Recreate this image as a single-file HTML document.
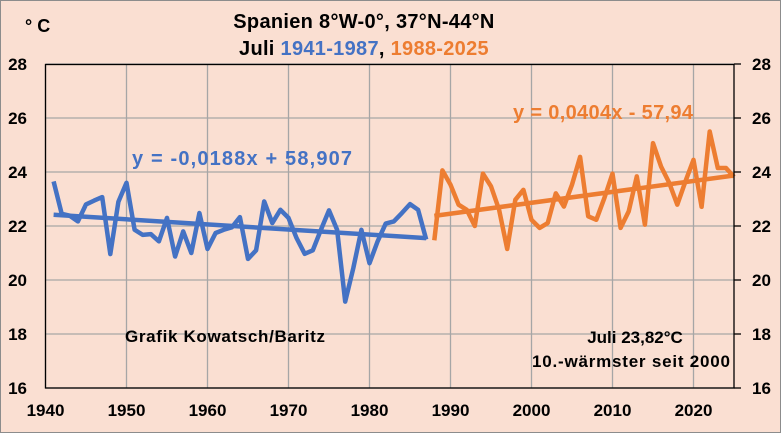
<!DOCTYPE html>
<html><head><meta charset="utf-8"><style>
html,body{margin:0;padding:0;background:#fadfd2}
svg{display:block;font-family:"Liberation Sans",sans-serif;font-weight:bold}
</style></head><body>
<svg id="chart" width="781" height="433" viewBox="0 0 781 433" xmlns="http://www.w3.org/2000/svg">
<rect x="0.5" y="0.5" width="780" height="432" fill="#fadfd2" stroke="#8c8c8c"/>
<g id="grid"></g>
<g id="marks"></g>
<rect x="45.5" y="64.5" width="688.5" height="323.5" fill="none" stroke="#000" stroke-width="1.3"/>
<g id="axes"></g>
<text x="25" y="32" font-size="18">° C</text>
<text x="364" y="28" font-size="20" text-anchor="middle" letter-spacing="0.3">Spanien 8°W-0°, 37°N-44°N</text>
<text x="364" y="55" font-size="20" text-anchor="middle" letter-spacing="0.3">Juli <tspan fill="#4472c4">1941-1987</tspan>, <tspan fill="#ed7d31">1988-2025</tspan></text>
<text x="132" y="165" font-size="20" fill="#4472c4" textLength="220">y = -0,0188x + 58,907</text>
<text x="513" y="119" font-size="20" fill="#ed7d31" textLength="180">y = 0,0404x - 57,94</text>
<text x="125" y="342" font-size="17" textLength="200">Grafik Kowatsch/Baritz</text>
<text x="635" y="343" font-size="17" text-anchor="middle">Juli 23,82°C</text>
<text x="631" y="367" font-size="17" text-anchor="middle" textLength="198">10.-wärmster seit 2000</text>
</svg>
<script>
const blueYears = [1941,1942,1943,1944,1945,1946,1947,1948,1949,1950,1951,1952,1953,1954,1955,1956,1957,1958,1959,1960,1961,1962,1963,1964,1965,1966,1967,1968,1969,1970,1971,1972,1973,1974,1975,1976,1977,1978,1979,1980,1981,1982,1983,1984,1985,1986,1987];
const blueValues = [23.65,22.45,22.38,22.17,22.8,22.94,23.07,20.96,22.9,23.6,21.86,21.67,21.7,21.43,22.3,20.87,21.8,21.0,22.48,21.15,21.74,21.86,21.95,22.33,20.78,21.1,22.91,22.11,22.6,22.3,21.55,20.97,21.1,21.86,22.58,21.86,19.2,20.44,21.86,20.62,21.43,22.09,22.17,22.48,22.81,22.6,21.5];
const orangeYears = [1988,1989,1990,1991,1992,1993,1994,1995,1996,1997,1998,1999,2000,2001,2002,2003,2004,2005,2006,2007,2008,2009,2010,2011,2012,2013,2014,2015,2016,2017,2018,2019,2020,2021,2022,2023,2024,2025];
const orangeValues = [21.47,24.06,23.53,22.79,22.6,22.0,23.94,23.47,22.6,21.15,22.97,23.34,22.23,21.93,22.11,23.21,22.72,23.53,24.56,22.36,22.23,23.04,23.94,21.93,22.54,23.84,22.05,25.07,24.2,23.6,22.79,23.65,24.45,22.71,25.5,24.15,24.15,23.82];
const blueTrend = [-0.0188, 58.907];
const orangeTrend = [0.0404, -57.94];
const xTicks = [1940,1950,1960,1970,1980,1990,2000,2010,2020];
const yTicks = [16,18,20,22,24,26,28];

const NS='http://www.w3.org/2000/svg';
const X = yr => 45.5 + (yr-1940)*(688.5/85);
const Y = v => 388 - (v-16)*27;
function mk(tag, attrs, parent){const e=document.createElementNS(NS,tag);for(const k in attrs)e.setAttribute(k,attrs[k]);parent.appendChild(e);return e;}
const grid=document.getElementById('grid'), marks=document.getElementById('marks'), axes=document.getElementById('axes');
xTicks.forEach(t=>{
  const l=mk('line',{x1:X(t),x2:X(t),y1:64.5,y2:388,stroke:'#a6a6a6','stroke-width':1.3},grid);
  
  
  const tx=mk('text',{x:X(t),y:416,'font-size':17,'text-anchor':'middle'},axes);tx.textContent=t;
  
  
});
yTicks.forEach(t=>{
  const l=mk('line',{x1:45.5,x2:734,y1:Y(t),y2:Y(t),stroke:'#a6a6a6','stroke-width':1.3},grid);
  
  
  const tk=mk('line',{x1:734,x2:741,y1:Y(t),y2:Y(t),stroke:'#000','stroke-width':1.3},axes);
  
  
  const a=mk('text',{x:27,y:Y(t)+6,'font-size':17,'text-anchor':'end'},axes);a.textContent=t;
  
  
  const b=mk('text',{x:752,y:Y(t)+6,'font-size':17},axes);b.textContent=t;
  
  
});
function series(years, vals, color, name){
  const p=mk('polyline',{points:years.map((y,i)=>X(y)+','+Y(vals[i])).join(' '),fill:'none',stroke:color,'stroke-width':4.5,'stroke-linejoin':'round'},marks);
  
  
}
function trend(years, c, color, name){
  const a=years[0], b=years[years.length-1];
  const l=mk('line',{x1:X(a),y1:Y(c[0]*a+c[1]),x2:X(b),y2:Y(c[0]*b+c[1]),stroke:color,'stroke-width':4.5},marks);
  
  
}
series(blueYears, blueValues, '#4472c4', 'blue-series-1941-1987');
trend(blueYears, blueTrend, '#4472c4', 'blue-trendline');
series(orangeYears, orangeValues, '#ed7d31', 'orange-series-1988-2025');
trend(orangeYears, orangeTrend, '#ed7d31', 'orange-trendline');
</script>
</body></html>
